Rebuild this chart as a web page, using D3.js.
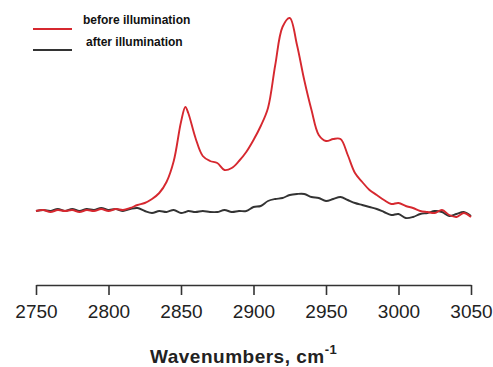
<!DOCTYPE html>
<html>
<head>
<meta charset="utf-8">
<script src="https://cdn.jsdelivr.net/npm/d3@7"></script>
<style>
  html, body { margin: 0; padding: 0; background: #fff; }
  svg { display: block; }
</style>
</head>
<body>
<svg id="chart" width="493" height="367"></svg>
<script>
// Wavenumbers (cm-1)
const wavenumbers = [2750,2755,2760,2765,2770,2775,2780,2785,2790,2795,2800,2805,2810,2815,2820,2825,2830,2835,2840,2845,2850,2853,2855,2860,2865,2870,2875,2880,2885,2890,2895,2900,2905,2910,2915,2920,2925,2930,2935,2940,2945,2950,2955,2960,2965,2970,2975,2980,2985,2990,2995,3000,3005,3010,3015,3020,3025,3030,3035,3040,3045,3050];
// Intensity (a.u.) before illumination
const beforeValues = [0,1,-1,1,0,1,-1,1,0,2,0,2,1,3,6,8,12,18,29,50,89,104,98,73,55,50,48,41,43,50,59,71,85,103,146,184,193,166,131,101,76,70,72,72,56,38,29,21,16,11,7,8,5,3,0,-1,-2,1,-4,-6,-2,-6];
// Intensity (a.u.) after illumination
const afterValues = [0,1,0,2,0,2,0,2,1,3,1,2,0,2,3,0,-2,0,-1,1,-2,-1,0,-1,0,-1,-1,1,-1,0,0,4,5,10,12,13,16,17,17,14,13,10,12,14,11,8,6,4,2,-1,-4,-3,-7,-6,-3,-2,0,-1,-5,-3,-1,-5];
const tickValues = [2750,2800,2850,2900,2950,3000,3050];
const seriesNames = ["before illumination","after illumination"];
const seriesColors = ["#d6282f","#333333"];

const svg = d3.select("#chart");
const x = d3.scaleLinear().domain([2750, 3050]).range([36, 471]);
const y = d3.scaleLinear().domain([-74, 194]).range([285, 17]);

const line = d3.line()
  .curve(d3.curveCatmullRom.alpha(0.5))
  .x((d, i) => x(wavenumbers[i]))
  .y(d => y(d));

// black first, red on top
svg.append("path").datum(afterValues)
  .attr("d", line).attr("fill", "none")
  .attr("stroke", seriesColors[1]).attr("stroke-width", 1.9)
  .attr("stroke-linejoin", "round");
svg.append("path").datum(beforeValues)
  .attr("d", line).attr("fill", "none")
  .attr("stroke", seriesColors[0]).attr("stroke-width", 1.9)
  .attr("stroke-linejoin", "round");

// x axis
const axis = d3.axisBottom(x).tickValues(tickValues).tickFormat(d3.format("d"))
  .tickSizeInner(10).tickSizeOuter(0).tickPadding(10);
const g = svg.append("g").attr("transform", "translate(0,285)").call(axis);
g.select(".domain").attr("stroke", "#333").attr("stroke-width", 1.6);
g.selectAll(".tick line").attr("stroke", "#333").attr("stroke-width", 1.6);
g.selectAll(".tick text")
  .attr("fill", "#222")
  .style("font-family", "Liberation Sans, Arial, sans-serif")
  .style("font-size", "19px");

// axis title
const title = svg.append("text")
  .attr("x", 150).attr("y", 363)
  .attr("fill", "#222")
  .style("font-family", "Liberation Sans, Arial, sans-serif")
  .style("font-size", "19px")
  .style("font-weight", "bold")
  .style("letter-spacing", "0.5px");
title.append("tspan").text("Wavenumbers, cm");
title.append("tspan").attr("dy", -9).style("font-size", "13px").text("-1");

// legend
const legendY = [29, 50];
const textY = [24, 46];
const textX = [83, 86];
seriesNames.forEach((name, i) => {
  svg.append("line")
    .attr("x1", 33).attr("x2", 72)
    .attr("y1", legendY[i]).attr("y2", legendY[i])
    .attr("stroke", seriesColors[i]).attr("stroke-width", 2);
  svg.append("text")
    .attr("x", textX[i]).attr("y", textY[i])
    .attr("fill", "#111")
    .style("font-family", "Liberation Sans, Arial, sans-serif")
    .style("font-size", "12px")
    .style("font-weight", "bold")
    .text(name);
});
</script>
</body>
</html>
